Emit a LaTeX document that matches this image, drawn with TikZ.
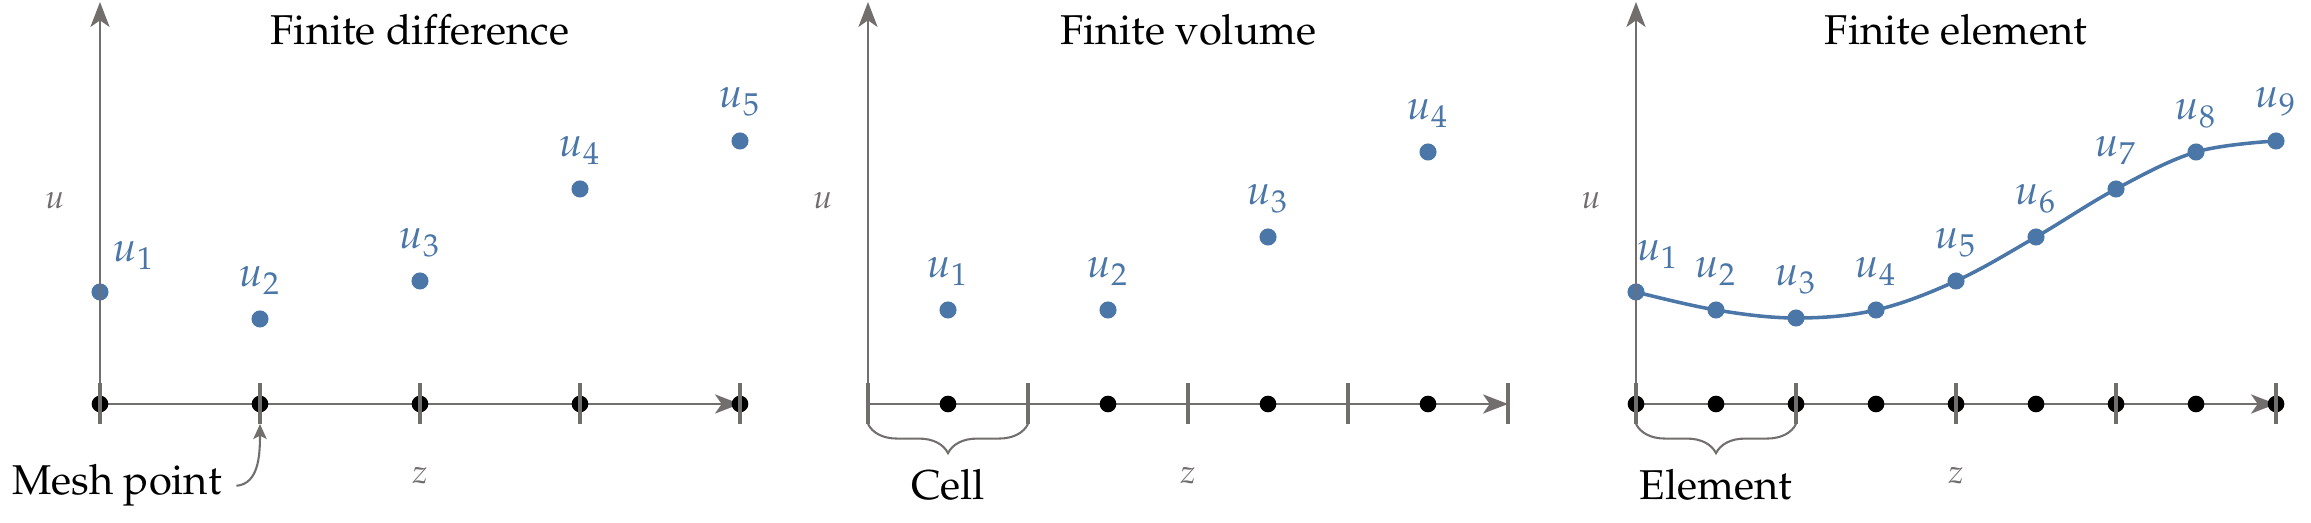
\documentclass[tikz,border=0pt]{standalone}
\usepackage[T1]{fontenc}
\usepackage{mathpazo}
\usetikzlibrary{arrows.meta,decorations.pathreplacing}
\definecolor{axgray}{RGB}{115,110,110}
\definecolor{ublue}{RGB}{74,118,168}
\tikzset{
  axisline/.style={draw=axgray, line width=0.5pt},
  axarrow/.style={axisline, -{Stealth[length=6pt,width=4.6pt,inset=1.6pt]}},
  tickmark/.style={draw=axgray, line width=0.85pt},
  meshdot/.style={circle, fill=black, inner sep=0pt, minimum size=4pt},
  udot/.style={circle, fill=ublue, inner sep=0pt, minimum size=4.1pt},
  ulabel/.style={text=ublue, anchor=base, inner sep=0pt},
  axlabel/.style={text=axgray, font=\footnotesize, anchor=base, inner sep=0pt},
  paneltitle/.style={anchor=base, inner sep=0pt},
  bracepath/.style={draw=axgray, line width=0.5pt, decorate, decoration={brace, mirror, amplitude=7pt}},
  ucurve/.style={draw=ublue, line width=0.85pt},
  pointer/.style={draw=axgray, line width=0.5pt, -{Stealth[length=3.6pt,width=3.2pt,inset=0.8pt]}},
}
\begin{document}
\begin{tikzpicture}[x=0.24pt,y=-0.24pt]
\useasboundingbox (0,0) rectangle (2311,523);

% ================= Panel 1: Finite difference =================
\node[paneltitle] (t1) at (420,45) {Finite difference};
\node[axlabel] (ul1) at (55,209) {$u$};
\node[axlabel] (zl1) at (420,484) {$z$};
\coordinate (o1) at (100,404);
\coordinate (yt1) at (100,2);
\coordinate (xt1) at (740,404);
% blue values
\node[udot] (a1) at (100,292) {};
\node[udot] (a2) at (260,319) {};
\node[udot] (a3) at (420,281) {};
\node[udot] (a4) at (580,189) {};
\node[udot] (a5) at (740,141) {};
\node[ulabel] (la1) at (134,262) {$u_1$};
\node[ulabel] (la2) at (260,287) {$u_2$};
\node[ulabel] (la3) at (420,249) {$u_3$};
\node[ulabel] (la4) at (580,157) {$u_4$};
\node[ulabel] (la5) at (740,108) {$u_5$};
\draw[axarrow] (o1) -- (xt1);
\foreach \i in {0,...,4} \node[meshdot] (m1-\i) at (100+160*\i,404) {};
\foreach \i in {0,...,4} \draw[tickmark] (100+160*\i,383) -- (100+160*\i,424);
\draw[axarrow] (o1) -- (yt1);
\node[anchor=base] (mesh) at (117,495) {Mesh point};
\coordinate (mp) at (260,424);
\draw[pointer] (mesh.east) .. controls +(22,-2) and +(0,32) .. (mp);

% ================= Panel 2: Finite volume =================
\node[paneltitle] (t2) at (1188,45) {Finite volume};
\node[axlabel] (ul2) at (823,209) {$u$};
\node[axlabel] (zl2) at (1188,484) {$z$};
\coordinate (o2) at (868,404);
\coordinate (yt2) at (868,2);
\coordinate (xt2) at (1508,404);
\node[udot] (b1) at (948,310) {};
\node[udot] (b2) at (1108,310) {};
\node[udot] (b3) at (1268,237) {};
\node[udot] (b4) at (1428,152) {};
\node[ulabel] (lb1) at (948,278) {$u_1$};
\node[ulabel] (lb2) at (1108,278) {$u_2$};
\node[ulabel] (lb3) at (1268,205) {$u_3$};
\node[ulabel] (lb4) at (1428,120) {$u_4$};
\draw[axarrow] (o2) -- (xt2);
\foreach \i in {0,...,3} \node[meshdot] (m2-\i) at (948+160*\i,404) {};
\foreach \i in {0,...,4} \draw[tickmark] (868+160*\i,383) -- (868+160*\i,424);
\draw[axarrow] (o2) -- (yt2);
\coordinate (c2a) at (868,424);
\coordinate (c2b) at (1028,424);
\draw[bracepath] (c2a) -- (c2b);
\node[anchor=base] (cell) at (948,500) {Cell};

% ================= Panel 3: Finite element =================
\node[paneltitle] (t3) at (1956,45) {Finite element};
\node[axlabel] (ul3) at (1591,209) {$u$};
\node[axlabel] (zl3) at (1956,484) {$z$};
\coordinate (o3) at (1636,404);
\coordinate (yt3) at (1636,2);
\coordinate (xt3) at (2276,404);
\coordinate (e1) at (1636,292);
\coordinate (e2) at (1716,310);
\coordinate (e3) at (1796,318);
\coordinate (e4) at (1876,310);
\coordinate (e5) at (1956,281);
\coordinate (e6) at (2036,237);
\coordinate (e7) at (2116,189);
\coordinate (e8) at (2196,152);
\coordinate (e9) at (2276,141);
\draw[ucurve] plot[smooth, tension=0.6] coordinates {(e1) (e2) (e3) (e4) (e5) (e6) (e7) (e8) (e9)};
\foreach \i in {1,...,9} \node[udot] (c\i) at (e\i) {};
\node[ulabel] (lc1) at (1658,261) {$u_1$};
\node[ulabel] (lc2) at (1716,278) {$u_2$};
\node[ulabel] (lc3) at (1796,286) {$u_3$};
\node[ulabel] (lc4) at (1876,278) {$u_4$};
\node[ulabel] (lc5) at (1956,249) {$u_5$};
\node[ulabel] (lc6) at (2036,205) {$u_6$};
\node[ulabel] (lc7) at (2116,157) {$u_7$};
\node[ulabel] (lc8) at (2196,120) {$u_8$};
\node[ulabel] (lc9) at (2276,108) {$u_9$};
\draw[axarrow] (o3) -- (xt3);
\foreach \i in {0,...,8} \node[meshdot] (m3-\i) at (1636+80*\i,404) {};
\foreach \i in {0,...,4} \draw[tickmark] (1636+160*\i,383) -- (1636+160*\i,424);
\draw[axarrow] (o3) -- (yt3);
\coordinate (c3a) at (1636,424);
\coordinate (c3b) at (1796,424);
\draw[bracepath] (c3a) -- (c3b);
\node[anchor=base] (elem) at (1716,500) {Element};
\end{tikzpicture}
\end{document}
